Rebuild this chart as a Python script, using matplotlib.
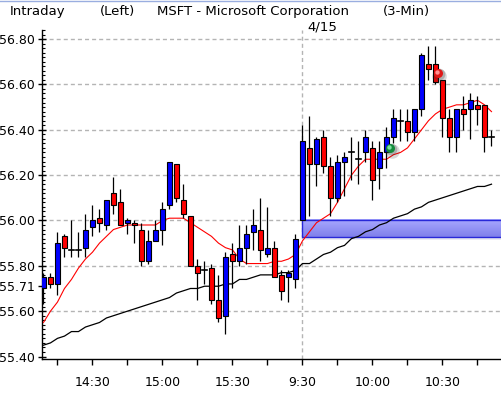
import numpy as np
import matplotlib
matplotlib.use('Agg')
import matplotlib.pyplot as plt
from matplotlib.patches import Rectangle
from matplotlib.lines import Line2D

# ---------------- data (3-minute candles, MSFT) ----------------
prev_day_start = (14, 9)     # first visible candle of previous session
today_start = (9, 30)
n_prev, n_today = 37, 28

opens = [55.70, 55.75, 55.72, 55.93, 55.87, 55.87, 55.88, 55.97, 56.01, 55.98,
         56.12, 56.08, 55.99, 55.99, 55.96, 55.82, 55.91, 55.96, 56.07, 56.25,
         56.09, 56.02, 55.80, 55.78, 55.79, 55.65, 55.58, 55.85, 55.82, 55.88,
         55.95, 55.96, 55.85, 55.88, 55.76, 55.75, 55.74,
         56.00, 56.32, 56.25, 56.37, 56.24, 56.10, 56.26, 56.30, 56.27, 56.30,
         56.32, 56.23, 56.30, 56.37, 56.44, 56.44, 56.39, 56.49, 56.69, 56.69,
         56.62, 56.45, 56.37, 56.49, 56.49, 56.51, 56.51, 56.37]
closes = [55.75, 55.72, 55.90, 55.88, 55.87, 55.87, 55.96, 56.00, 55.99, 56.09,
          56.07, 55.98, 56.00, 55.98, 55.82, 55.91, 55.96, 56.05, 56.26, 56.10,
          56.03, 55.80, 55.77, 55.78, 55.65, 55.57, 55.84, 55.82, 55.88, 55.94,
          55.98, 55.87, 55.88, 55.75, 55.69, 55.77, 55.92,
          56.35, 56.25, 56.36, 56.24, 56.10, 56.26, 56.28, 56.30, 56.27, 56.37,
          56.18, 56.30, 56.37, 56.45, 56.44, 56.39, 56.49, 56.73, 56.67, 56.61,
          56.45, 56.37, 56.49, 56.47, 56.53, 56.49, 56.37, 56.37]
highs = [55.77, 55.77, 55.95, 55.94, 56.00, 55.95, 56.03, 56.07, 56.05, 56.09,
         56.19, 56.14, 56.01, 56.00, 55.99, 55.96, 56.00, 56.08, 56.26, 56.25,
         56.16, 56.02, 55.83, 55.82, 55.81, 55.76, 55.86, 55.90, 55.98, 55.98,
         56.05, 56.10, 56.06, 55.91, 55.78, 55.78, 55.94,
         56.42, 56.46, 56.37, 56.40, 56.28, 56.29, 56.30, 56.37, 56.35, 56.40,
         56.35, 56.35, 56.41, 56.49, 56.49, 56.49, 56.49, 56.74, 56.77, 56.77,
         56.62, 56.49, 56.49, 56.55, 56.56, 56.55, 56.51, 56.40]
lows = [55.63, 55.70, 55.67, 55.84, 55.84, 55.84, 55.84, 55.93, 55.95, 55.96,
        56.03, 55.98, 55.94, 55.90, 55.80, 55.81, 55.91, 55.89, 56.05, 56.08,
        56.01, 55.80, 55.65, 55.72, 55.63, 55.55, 55.50, 55.70, 55.80, 55.81,
        55.87, 55.82, 55.84, 55.75, 55.65, 55.64, 55.70,
        56.00, 56.02, 56.15, 56.21, 56.02, 56.08, 56.11, 56.18, 56.16, 56.26,
        56.09, 56.14, 56.23, 56.34, 56.35, 56.35, 56.35, 56.46, 56.62, 56.60,
        56.37, 56.30, 56.30, 56.40, 56.36, 56.42, 56.30, 56.33]

ma_short = [55.55, 55.60, 55.64, 55.70, 55.74, 55.79, 55.83, 55.86, 55.90, 55.93,
            55.96, 55.97, 55.98, 55.98, 55.98, 55.98, 55.98, 56.00, 56.01, 56.01,
            56.01, 55.99, 55.97, 55.95, 55.93, 55.90, 55.88, 55.87, 55.83, 55.81,
            55.81, 55.81, 55.81, 55.82, 55.82, 55.83, 55.85,
            55.91, 55.95, 55.99, 56.01, 56.03, 56.08, 56.14, 56.20, 56.24, 56.27,
            56.27, 56.27, 56.27, 56.29, 56.30, 56.32, 56.36, 56.40, 56.44, 56.47,
            56.49, 56.50, 56.51, 56.51, 56.52, 56.53, 56.51, 56.48]
ma_long = [55.45, 55.46, 55.48, 55.49, 55.51, 55.51, 55.53, 55.54, 55.55, 55.57,
           55.58, 55.59, 55.60, 55.61, 55.62, 55.63, 55.64, 55.65, 55.66, 55.68,
           55.69, 55.70, 55.70, 55.71, 55.71, 55.71, 55.72, 55.72, 55.74, 55.74,
           55.75, 55.76, 55.76, 55.76, 55.77, 55.77, 55.78,
           55.81, 55.81, 55.83, 55.85, 55.86, 55.88, 55.89, 55.92, 55.93, 55.95,
           55.96, 55.98, 55.99, 56.01, 56.02, 56.03, 56.05, 56.06, 56.08, 56.09,
           56.10, 56.11, 56.12, 56.13, 56.14, 56.15, 56.15, 56.16]

gap_low, gap_high = 55.925, 56.00          # window (gap) between sessions
signal_buy = (49.5, 56.32)                 # green marker
signal_sell = (56.3, 56.65)                # red marker

ytick_values = [55.40, 55.60, 55.71, 55.80, 56.00, 56.20, 56.40, 56.60, 56.80]
grid_values = [55.60, 55.80, 56.00, 56.20, 56.40, 56.60, 56.80]
xtick_labels = ['14:30', '15:00', '15:30', '9:30', '10:00', '10:30']

title_left = 'Intraday'
title_mid = '(Left)'
title_name = 'MSFT - Microsoft Corporation'
title_int = '(3-Min)'
date_label = '4/15'

# ---------------- derived time labels ----------------
def session_times(start, n):
    h, m = start
    out = []
    for k in range(n):
        t = h * 60 + m + 3 * k
        out.append(f"{t // 60}:{t % 60:02d}")
    return out

times = session_times(prev_day_start, n_prev) + session_times(today_start, n_today)
n = len(opens)
xs = np.arange(n)

# ---------------- figure ----------------
W, H = 502, 394
fig = plt.figure(figsize=(W / 100, H / 100), dpi=100)
fig.patch.set_facecolor('white')

ax_left, ax_right, ax_top, ax_bot = 42, 502, 30, 359
ax = fig.add_axes([ax_left / W, (H - ax_bot) / H, (ax_right - ax_left) / W, (ax_bot - ax_top) / H])

ppx = 0.2 / 45.5
ax.set_ylim(56.00 - (ax_bot - 220) * ppx, 56.00 + (220 - ax_top) * ppx)
ax.set_xlim(-0.21, (ax_right - 43.5) / 7.0)

# grid
dash = (0, (2.9, 2.2))
for g in grid_values:
    ax.axhline(g, color='#b4b4b4', lw=1, ls=dash, zorder=1)
ax.axvline(n_prev, color='#b4b4b4', lw=1, ls=dash, zorder=1)

# gap band (gradient)
x0b, x1b = n_prev, ax.get_xlim()[1]
grad = np.linspace(0, 1, 32)[:, None]
c_top = np.array([0.66, 0.66, 1.0])
c_bot = np.array([0.50, 0.50, 0.92])
img = c_top[None, None, :] * (1 - grad[..., None]) + c_bot[None, None, :] * grad[..., None]
img = np.repeat(img, 2, axis=1)
ax.imshow(img, extent=[x0b, x1b, gap_low, gap_high], origin='upper', aspect='auto',
          zorder=2, interpolation='bilinear')
ax.add_patch(Rectangle((x0b, gap_low - 0.012), x1b - x0b, 0.012, facecolor='#c8c8d8',
                       edgecolor='none', alpha=0.35, zorder=1.9))
ax.add_patch(Rectangle((x0b, gap_low), x1b - x0b, gap_high - gap_low, facecolor='none',
                       edgecolor='#2828d8', lw=1.0, zorder=2.1))

# moving averages
ax.plot(xs, ma_long, color='black', lw=0.9, zorder=3)
ax.plot(xs, ma_short, color='#ff0000', lw=0.8, zorder=3)

# candles
bw = 0.62
for i in range(n):
    o, h, l, c = opens[i], highs[i], lows[i], closes[i]
    ax.plot([i, i], [l, h], color='black', lw=0.9, zorder=4, solid_capstyle='butt')
    if abs(c - o) < 0.004:
        ax.plot([i - bw / 2, i + bw / 2], [o, o], color='black', lw=1.2, zorder=5)
    else:
        col = '#0000ff' if c > o else '#ff0000'
        ax.add_patch(Rectangle((i - bw / 2, min(o, c)), bw, abs(c - o), facecolor=col,
                               edgecolor='black', lw=0.8, zorder=5))

# signal markers (glowing balls)
for (sx, sy), base, light in [(signal_buy, '#138a3c', '#7ee0a0'), (signal_sell, '#e01818', '#ff9090')]:
    ax.scatter([sx + 0.25], [sy - 0.012], s=110, color='#303030', alpha=0.18, lw=0, zorder=6)
    ax.scatter([sx + 0.15], [sy - 0.006], s=70, color='#303030', alpha=0.25, lw=0, zorder=6)
    ax.scatter([sx], [sy], s=42, color=base, lw=0, zorder=7)
    ax.scatter([sx - 0.12], [sy + 0.005], s=10, color=light, lw=0, zorder=8)

# axes styling
for s in ['top', 'right']:
    ax.spines[s].set_visible(False)
ax.spines['left'].set_linewidth(1)
ax.spines['bottom'].set_linewidth(1)

ax.set_yticks(ytick_values)
ax.set_yticklabels([f"{v:.2f}" for v in ytick_values])
ax.set_yticks(np.arange(55.40, 56.84, 0.02), minor=True)
ax.tick_params(axis='y', which='major', direction='inout', length=6, width=1, pad=2,
               labelsize=9, colors='black')
ax.tick_params(axis='y', which='minor', direction='in', length=2.2, width=0.8)

tick_idx = [i for i in range(n) if (i - n_prev) % 5 == 0]
label_idx = [times.index(t) for t in xtick_labels]
ax.set_xticks(tick_idx)
ax.set_xticklabels([times[i] if i in label_idx else '' for i in tick_idx])
ax.tick_params(axis='x', which='major', direction='out', length=4, width=1, pad=8,
               labelsize=9, colors='black')

# titles
ty = 1 - 11.5 / H
fig.text(10 / W, ty, title_left, fontsize=9.5, va='center', ha='left')
fig.text(100 / W, ty, title_mid, fontsize=9.5, va='center', ha='left')
fig.text(157 / W, ty, title_name, fontsize=9.5, va='center', ha='left')
fig.text(383 / W, ty, title_int, fontsize=9.5, va='center', ha='left')
fig.text(322 / W, 1 - 26.5 / H, date_label, fontsize=9.5, va='center', ha='center')

fig.add_artist(Line2D([0, 1], [1 - 0.5 / H, 1 - 0.5 / H], color='#9aaee0', lw=1,
                      transform=fig.transFigure))

fig.savefig('out.png', dpi=100)
